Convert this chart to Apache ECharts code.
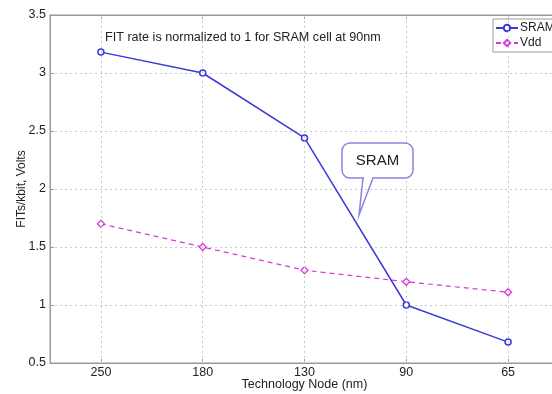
<!DOCTYPE html>
<html><head><meta charset="utf-8">
<script src="https://cdn.jsdelivr.net/npm/echarts@6/dist/echarts.min.js"></script>
<style>html,body{margin:0;padding:0;background:#fff}#c{width:552px;height:394px}</style>
</head><body><div id="c"></div>
<script>
const categories = ['250', '180', '130', '90', '65'];
const sramValues = [3.18, 3.0, 2.44, 1.0, 0.68];
const vddValues = [1.7, 1.5, 1.3, 1.2, 1.11];
const yTicks = [0.5, 1, 1.5, 2, 2.5, 3, 3.5];

const chart = echarts.init(document.getElementById('c'), null, {renderer: 'canvas'});
const font = 'Liberation Sans, Arial, sans-serif';
const gridColor = '#c8c8c8';
const gridLine = {show: true, lineStyle: {color: gridColor, type: [2, 3], width: 1}};
chart.setOption({
  animation: false,
  backgroundColor: '#fff',
  textStyle: {fontFamily: font},
  grid: {left: 50, top: 15, right: -7, bottom: 31, containLabel: false, outerBoundsMode: 'none',
    show: true, borderColor: '#9a9a9a', borderWidth: 1, backgroundColor: 'transparent'},
  legend: {
    left: 493, top: 19, orient: 'vertical', itemGap: 3, itemWidth: 22, itemHeight: 8,
    padding: [3, 40, 3, 2], backgroundColor: '#fff', borderColor: '#9a9a9a', borderWidth: 1, borderRadius: 0,
    textStyle: {fontSize: 12, color: '#222', fontFamily: font, padding: [0, 0, 0, -3]},
    data: ['SRAM', 'Vdd']
  },
  xAxis: [{
    type: 'category', data: categories, boundaryGap: true,
    name: 'Technology Node (nm)', nameLocation: 'middle', nameGap: 15, nameMoveOverlap: false,
    nameTextStyle: {fontSize: 12.5, color: '#222', fontFamily: font},
    axisLine: {show: true, lineStyle: {color: '#9a9a9a'}},
    axisTick: {show: true, inside: true, alignWithLabel: true, length: 4, lineStyle: {color: '#9a9a9a'}},
    axisLabel: {fontSize: 12.5, color: '#222', margin: 3, fontFamily: font},
    splitLine: {show: false}
  }, {
    type: 'category', data: categories, boundaryGap: true, position: 'top',
    axisLine: {show: true, lineStyle: {color: '#9a9a9a'}},
    axisTick: {show: true, inside: true, alignWithLabel: true, length: 4, lineStyle: {color: '#9a9a9a'}},
    axisLabel: {show: false}, splitLine: {show: false}
  }],
  yAxis: {
    type: 'value', min: yTicks[0], max: yTicks[yTicks.length - 1], interval: 0.5,
    name: 'FITs/kbit, Volts', nameLocation: 'middle', nameGap: 22, nameMoveOverlap: false,
    nameTextStyle: {fontSize: 12, color: '#222', fontFamily: font},
    axisLine: {show: true, lineStyle: {color: '#9a9a9a'}},
    axisTick: {show: true, inside: true, length: 4, lineStyle: {color: '#9a9a9a'}},
    axisLabel: {fontSize: 12.5, color: '#222', margin: 4, fontFamily: font,
      formatter: v => (yTicks.indexOf(v) >= 0 ? String(v) : '')},
    splitLine: gridLine
  },
  series: [
    {
      name: 'SRAM', type: 'line', data: sramValues,
      symbol: 'circle', symbolSize: 6, showAllSymbol: true,
      lineStyle: {color: '#3a3ad8', width: 1.5},
      itemStyle: {color: '#fff', borderColor: '#3a3ad8', borderWidth: 1.5},
      markLine: {
        silent: true, symbol: 'none', label: {show: false}, animation: false,
        lineStyle: {color: gridColor, type: [2, 3], width: 1},
        data: categories.map(c => ({xAxis: c}))
      },
      z: 3
    },
    {
      name: 'Vdd', type: 'line', data: vddValues,
      symbol: 'diamond', symbolSize: 7, showAllSymbol: true,
      lineStyle: {color: '#d83ad8', width: 1.2, type: [5, 4]},
      itemStyle: {color: '#fff', borderColor: '#d83ad8', borderWidth: 1.3},
      z: 2
    }
  ],
  graphic: [
    {type: 'text', left: 105, top: 31, z: 10,
      style: {text: 'FIT rate is normalized to 1 for SRAM cell at 90nm', fontSize: 12.6, fill: '#222', fontFamily: font}},
    {type: 'rect', z: 10, shape: {x: 342, y: 143, width: 71, height: 35, r: 8},
      style: {fill: '#fff', stroke: '#8a84e0', lineWidth: 1.5}},
    {type: 'rect', z: 11, shape: {x: 364, y: 176, width: 8, height: 4},
      style: {fill: '#fff', stroke: null}},
    {type: 'polyline', z: 12, shape: {points: [[363, 178], [359, 215], [373, 178]]},
      style: {fill: null, stroke: '#8a84e0', lineWidth: 1.5}},
    {type: 'text', z: 12, x: 377.5, y: 160.5,
      style: {text: 'SRAM', fontSize: 15, fill: '#222', fontFamily: font, align: 'center', verticalAlign: 'middle'}}
  ]
});
</script></body></html>
